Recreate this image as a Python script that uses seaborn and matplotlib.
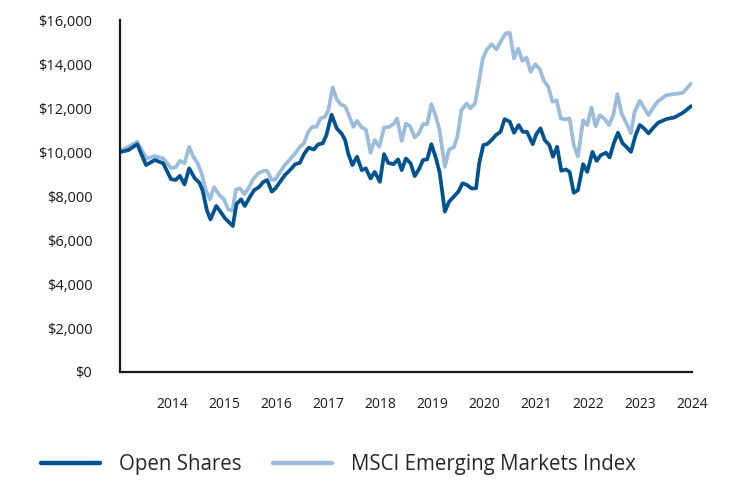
import pandas as pd
import matplotlib
matplotlib.use("Agg")
import matplotlib.pyplot as plt
import seaborn as sns

# Growth of $10,000 (decimal years)
open_years = [
    2013.00, 2013.16, 2013.33, 2013.50, 2013.67, 2013.83, 2013.98, 2014.07, 2014.15, 2014.24,
    2014.33, 2014.44, 2014.53, 2014.59, 2014.67, 2014.74, 2014.85, 2014.92, 2015.02, 2015.10,
    2015.17, 2015.24, 2015.33, 2015.40, 2015.50, 2015.58, 2015.67, 2015.76, 2015.83, 2015.92,
    2015.99, 2016.08, 2016.17, 2016.27, 2016.37, 2016.46, 2016.54, 2016.63, 2016.73, 2016.81,
    2016.90, 2016.97, 2017.07, 2017.17, 2017.26, 2017.33, 2017.39, 2017.47, 2017.56, 2017.65,
    2017.73, 2017.82, 2017.90, 2018.00, 2018.08, 2018.16, 2018.26, 2018.35, 2018.42, 2018.50,
    2018.59, 2018.67, 2018.76, 2018.83, 2018.91, 2018.99, 2019.08, 2019.15, 2019.25, 2019.33,
    2019.42, 2019.51, 2019.59, 2019.68, 2019.76, 2019.85, 2019.91, 2019.99, 2020.06, 2020.15,
    2020.23, 2020.32, 2020.40, 2020.50, 2020.58, 2020.67, 2020.75, 2020.83, 2020.94, 2021.01,
    2021.09, 2021.17, 2021.26, 2021.33, 2021.41, 2021.49, 2021.58, 2021.65, 2021.73, 2021.81,
    2021.91, 2021.99, 2022.09, 2022.17, 2022.25, 2022.35, 2022.42, 2022.50, 2022.58, 2022.67,
    2022.74, 2022.83, 2022.92, 2023.00, 2023.08, 2023.17, 2023.25, 2023.35, 2023.51, 2023.67,
    2023.83, 2023.99,
]
open_values = [
    10000, 10090, 10360, 9410, 9640, 9490, 8770, 8730, 8920, 8530,
    9260, 8800, 8600, 8240, 7360, 6940, 7550, 7330, 6990, 6800,
    6640, 7640, 7850, 7550, 7970, 8270, 8400, 8650, 8730, 8200,
    8350, 8650, 8950, 9180, 9450, 9510, 9910, 10200, 10120, 10350,
    10400, 10770, 11700, 11080, 10850, 10550, 9940, 9410, 9790, 9180,
    9260, 8800, 9100, 8650, 9910, 9510, 9450, 9670, 9180, 9710,
    9490, 8910, 9260, 9640, 9670, 10360, 9710, 9060, 7290, 7740,
    7970, 8200, 8580, 8500, 8350, 8350, 9490, 10320, 10360, 10550,
    10770, 10920, 11500, 11380, 10880, 11230, 10920, 10920, 10360, 10820,
    11080, 10550, 10320, 9790, 10240, 9150, 9210, 9100, 8150, 8270,
    9450, 9100, 10010, 9600, 9860, 9970, 9760, 10400, 10880, 10400,
    10240, 10010, 10770, 11230, 11080, 10850, 11080, 11330, 11500, 11580,
    11790, 12090,
]

msci_years = [
    2013.00, 2013.16, 2013.33, 2013.51, 2013.67, 2013.83, 2013.99, 2014.08, 2014.15, 2014.24,
    2014.33, 2014.41, 2014.49, 2014.57, 2014.65, 2014.73, 2014.81, 2014.91, 2015.00, 2015.08,
    2015.16, 2015.23, 2015.31, 2015.39, 2015.47, 2015.56, 2015.66, 2015.76, 2015.83, 2015.92,
    2015.99, 2016.08, 2016.17, 2016.27, 2016.37, 2016.46, 2016.54, 2016.62, 2016.70, 2016.78,
    2016.86, 2016.94, 2017.01, 2017.09, 2017.17, 2017.26, 2017.33, 2017.39, 2017.49, 2017.56,
    2017.65, 2017.73, 2017.82, 2017.90, 2017.99, 2018.08, 2018.18, 2018.27, 2018.33, 2018.42,
    2018.50, 2018.58, 2018.67, 2018.75, 2018.83, 2018.91, 2018.99, 2019.08, 2019.15, 2019.25,
    2019.33, 2019.42, 2019.49, 2019.57, 2019.67, 2019.74, 2019.83, 2019.91, 2019.98, 2020.06,
    2020.15, 2020.24, 2020.34, 2020.42, 2020.50, 2020.58, 2020.66, 2020.74, 2020.82, 2020.90,
    2020.99, 2021.08, 2021.15, 2021.24, 2021.32, 2021.40, 2021.48, 2021.58, 2021.65, 2021.73,
    2021.81, 2021.91, 2021.99, 2022.07, 2022.15, 2022.23, 2022.33, 2022.41, 2022.49, 2022.57,
    2022.65, 2022.73, 2022.83, 2022.90, 2023.00, 2023.08, 2023.17, 2023.25, 2023.34, 2023.51,
    2023.67, 2023.83, 2023.99,
]
msci_values = [
    10050, 10240, 10470, 9710, 9820, 9710, 9260, 9330, 9600, 9490,
    10240, 9790, 9510, 9030, 8270, 7850, 8400, 8050, 7850, 7400,
    7330, 8300, 8350, 8090, 8350, 8760, 9030, 9150, 9150, 8730,
    8760, 9100, 9410, 9670, 9940, 10240, 10400, 10920, 11150, 11150,
    11530, 11600, 11910, 12940, 12400, 12140, 12090, 11760, 11150, 11420,
    11120, 11030, 9970, 10550, 10240, 11120, 11150, 11300, 11530, 10510,
    11300, 11180, 10670, 10850, 11270, 11270, 12180, 11600, 10970, 9330,
    10120, 10210, 10700, 11910, 12210, 11990, 12210, 13270, 14260, 14670,
    14910, 14670, 15090, 15400, 15420, 14260, 14710, 14150, 14300, 13650,
    14000, 13760, 13270, 12970, 12290, 12360, 11530, 11490, 11530, 10320,
    9800, 11450, 11230, 12030, 11180, 11680, 11490, 11230, 11680, 12640,
    11760, 11380, 10850, 11830, 12330, 12030, 11680, 11990, 12290, 12590,
    12640, 12700, 13120,
]

series_names = ["Open Shares", "MSCI Emerging Markets Index"]
series_colors = ["#00538F", "#9BBCDA"]
tick_years = list(range(2014, 2025))

df = pd.concat([
    pd.DataFrame({"year": open_years, "value": open_values, "series": series_names[0]}),
    pd.DataFrame({"year": msci_years, "value": msci_values, "series": series_names[1]}),
])

sns.set_style("white")
plt.rcParams["font.family"] = ["Open Sans", "DejaVu Sans"]

fig = plt.figure(figsize=(7.32, 4.80), dpi=100)
ax = fig.add_axes([0.164, 0.225, 0.781, 0.733])

# draw the index first so the fund line sits on top
sns.lineplot(data=df, x="year", y="value", hue="series", hue_order=series_names[::-1],
             palette=series_colors[::-1], linewidth=2.7, ax=ax, legend=False,
             estimator=None, sort=True)

ax.set_xlim(2013, 2024)
ax.set_ylim(0, 16000)
ax.set_xticks(tick_years)
ax.set_xticklabels([str(y) for y in tick_years])
ax.set_yticks(range(0, 16001, 2000))
ax.set_yticklabels([f"${v:,}" for v in range(0, 16001, 2000)])
ax.set_xlabel("")
ax.set_ylabel("")

for side in ["top", "right"]:
    ax.spines[side].set_visible(False)
for side in ["left", "bottom"]:
    ax.spines[side].set_color("#1a1a1a")
    ax.spines[side].set_linewidth(1.6)

ax.tick_params(axis="both", length=0, labelsize=10.5, colors="#1a1a1a")
ax.tick_params(axis="x", labelsize=10)
ax.tick_params(axis="y", pad=20)
ax.tick_params(axis="x", pad=18)

handles = [plt.Line2D([], [], color=c, linewidth=3.2) for c in series_colors]
fig.legend(handles, series_names, loc="center left", bbox_to_anchor=(0.031, 0.032),
           ncol=2, frameon=False, fontsize=14.8, handlelength=2.87,
           handletextpad=0.92, columnspacing=1.55)

fig.savefig("out.png", dpi=100)
